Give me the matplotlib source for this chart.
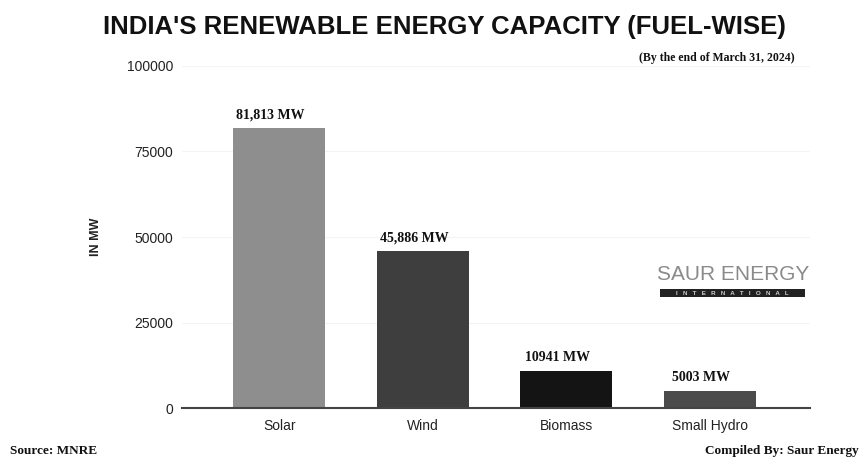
import matplotlib.pyplot as plt
from matplotlib.patches import Rectangle

# data
fuels = ['Solar', 'Wind', 'Biomass', 'Small Hydro']
capacity_mw = [81813, 45886, 10941, 5003]
value_labels = ['81,813 MW', '45,886 MW', '10941 MW', '5003 MW']
bar_colors = ['#8e8e8e', '#3e3e3e', '#141414', '#4b4b4b']
y_ticks = [0, 25000, 50000, 75000, 100000]

plt.rcParams['font.family'] = ['Liberation Sans', 'DejaVu Sans']

fig = plt.figure(figsize=(8.61, 4.58), dpi=100)
ax = fig.add_axes([0.211, 0.109, 0.730, 0.747])

x = range(len(fuels))
ax.bar(x, capacity_mw, width=0.64, color=bar_colors, zorder=2)

# labels above the bars (sit a bit left of centre in the original)
for i, v in enumerate(capacity_mw):
    ax.text(i - 0.06, v + 1900, value_labels[i], ha='center', va='bottom',
            fontsize=10, fontweight='bold', family='Liberation Serif', color='#111111')

ax.set_xlim(-0.68, 3.7)
ax.set_ylim(0, 100000)
ax.set_yticks(y_ticks)
ax.set_yticklabels([str(t) for t in y_ticks], fontsize=10, color='#222222')
ax.set_xticks(list(x))
ax.set_xticklabels(fuels, fontsize=10, color='#222222')
ax.tick_params(axis='y', length=0, pad=6)
ax.tick_params(axis='x', length=0, pad=8)
ax.yaxis.grid(True, color='#f4f4f4', lw=0.8, zorder=0)

for s in ['top', 'right', 'left']:
    ax.spines[s].set_visible(False)
ax.spines['bottom'].set_color('#444444')
ax.spines['bottom'].set_linewidth(1.5)

ax.set_ylabel('IN MW', fontsize=9, fontweight='bold', color='#222222', labelpad=18)

# title and notes
fig.text(0.516, 0.940, "INDIA'S RENEWABLE ENERGY CAPACITY (FUEL-WISE)", ha='center', va='center',
         fontsize=18.5, fontweight='bold', color='#111111')
fig.text(0.923, 0.874, '(By the end of March 31, 2024)', ha='right', va='center',
         fontsize=8.5, fontweight='bold', family='Liberation Serif', color='#111111')
fig.text(0.012, 0.016, 'Source: MNRE', ha='left', va='center',
         fontsize=9.5, fontweight='bold', family='Liberation Serif', color='#111111')
fig.text(0.997, 0.016, 'Compiled By: Saur Energy', ha='right', va='center',
         fontsize=9.5, fontweight='bold', family='Liberation Serif', color='#111111')

# watermark
fig.text(0.851, 0.379, 'SAUR ENERGY', ha='center', va='bottom',
         fontsize=15, color='#8a8a8a')
fig.patches.append(Rectangle((0.766, 0.352), 0.169, 0.016, transform=fig.transFigure,
                             fc='#222222', ec='none'))
fig.text(0.851, 0.360, 'I   N   T   E   R   N   A   T   I   O   N   A   L', ha='center', va='center',
         fontsize=4.5, fontweight='bold', color='#cfcfcf')

fig.savefig('out.png', dpi=100)
